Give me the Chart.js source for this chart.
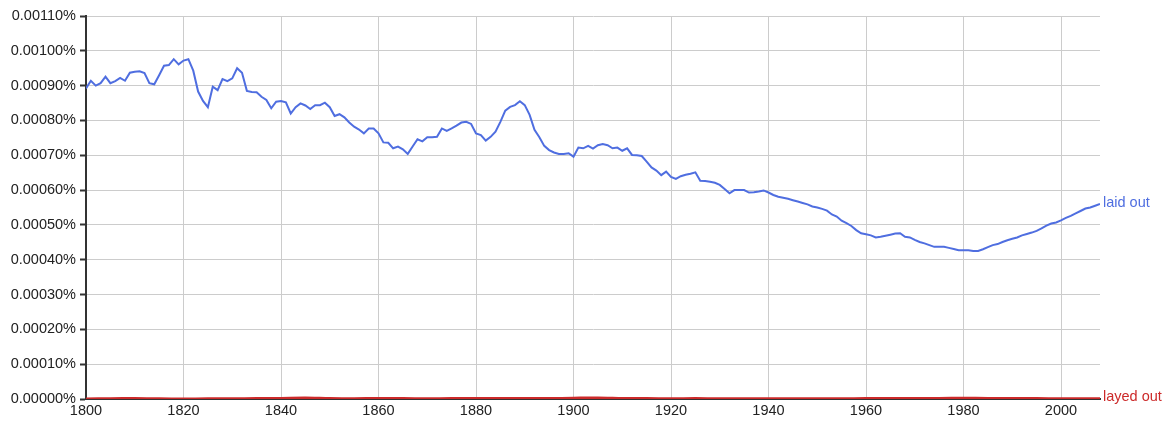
<!DOCTYPE html>
<html>
<head>
<meta charset="utf-8">
<script src="https://cdn.jsdelivr.net/npm/chart.js@4/dist/chart.umd.min.js"></script>
<style>
html,body{margin:0;padding:0;background:#fff;}
#wrap{width:1175px;height:432px;}
</style>
</head>
<body>
<div id="wrap"><canvas id="c" width="1175" height="432"></canvas></div>
<script>
// ---- DATA ----
const startYear = 1800;
const endYear = 2008;
const seriesNames = ["laid out", "layed out"];
// "laid out", yearly 1800..2008, in percent
const laidOut = [
0.000892,0.000914,0.000900,0.000907,0.000926,0.000907,0.000913,0.000922,0.000914,0.000937,
0.000940,0.000941,0.000936,0.000907,0.000904,0.000930,0.000957,0.000959,0.000976,0.000961,
0.000972,0.000976,0.000943,0.000883,0.000856,0.000838,0.000897,0.000887,0.000919,0.000913,
0.000921,0.000950,0.000937,0.000885,0.000882,0.000881,0.000868,0.000859,0.000835,0.000854,
0.000856,0.000852,0.000820,0.000838,0.000849,0.000843,0.000833,0.000844,0.000844,0.000851,
0.000838,0.000813,0.000818,0.000809,0.000794,0.000782,0.000774,0.000763,0.000777,0.000777,
0.000763,0.000737,0.000736,0.000720,0.000725,0.000717,0.000704,0.000725,0.000746,0.000740,
0.000752,0.000752,0.000753,0.000777,0.000770,0.000777,0.000785,0.000794,0.000796,0.000790,
0.000763,0.000758,0.000742,0.000753,0.000768,0.000796,0.000828,0.000839,0.000844,0.000855,
0.000844,0.000816,0.000773,0.000752,0.000727,0.000715,0.000708,0.000704,0.000704,0.000706,
0.000696,0.000722,0.000720,0.000727,0.000719,0.000729,0.000732,0.000729,0.000720,0.000722,
0.000713,0.000720,0.000701,0.000700,0.000698,0.000682,0.000665,0.000656,0.000643,0.000653,
0.000638,0.000632,0.000640,0.000644,0.000647,0.000651,0.000627,0.000626,0.000624,0.000621,
0.000615,0.000603,0.000591,0.000600,0.000600,0.000600,0.000593,0.000594,0.000596,0.000599,
0.000593,0.000586,0.000581,0.000578,0.000575,0.000571,0.000567,0.000563,0.000559,0.000553,
0.000550,0.000546,0.000541,0.000530,0.000524,0.000512,0.000505,0.000497,0.000485,0.000476,
0.000473,0.000470,0.000464,0.000466,0.000469,0.000472,0.000475,0.000476,0.000466,0.000464,
0.000457,0.000451,0.000447,0.000442,0.000437,0.000437,0.000437,0.000434,0.000431,0.000427,
0.000427,0.000427,0.000425,0.000425,0.000430,0.000436,0.000442,0.000445,0.000451,0.000456,
0.000460,0.000464,0.000470,0.000474,0.000478,0.000483,0.000490,0.000498,0.000504,0.000507,
0.000513,0.000520,0.000526,0.000533,0.000540,0.000547,0.000550,0.000555,0.000560
];
// "layed out", sampled years and values in percent
const layedYears = [1800,1805,1810,1815,1820,1825,1830,1835,1840,1845,1850,1855,1860,1865,1870,1875,1880,1885,1890,1895,1900,1905,1910,1915,1920,1925,1930,1935,1940,1945,1950,1955,1960,1965,1970,1975,1980,1985,1990,1995,2000,2005,2008];
const layedOut = [0.0000010,0.0000015,0.0000020,0.0000012,0.0000010,0.0000012,0.0000015,0.0000020,0.0000025,0.0000035,0.0000020,0.0000015,0.0000022,0.0000018,0.0000015,0.0000018,0.0000020,0.0000025,0.0000022,0.0000020,0.0000030,0.0000038,0.0000025,0.0000018,0.0000015,0.0000018,0.0000015,0.0000012,0.0000015,0.0000015,0.0000012,0.0000015,0.0000018,0.0000020,0.0000022,0.0000025,0.0000028,0.0000025,0.0000020,0.0000018,0.0000015,0.0000015,0.0000015];
const xTicks = [1800,1820,1840,1860,1880,1900,1920,1940,1960,1980,2000];
const yTicks = [0,0.0001,0.0002,0.0003,0.0004,0.0005,0.0006,0.0007,0.0008,0.0009,0.0010,0.0011];
const yTickLabels = ["0.00000%","0.00010%","0.00020%","0.00030%","0.00040%","0.00050%","0.00060%","0.00070%","0.00080%","0.00090%","0.00100%","0.00110%"];
const colors = ["#4f6ee0", "#cc2a2a"];

// ---- BUILD ----
const laidPts = laidOut.map((v, i) => ({x: startYear + i, y: v}));
const layedPts = layedOut.map((v, i) => ({x: layedYears[i], y: v}));

const FONT = {family: "'Liberation Sans', Arial, Helvetica, sans-serif", size: 14.5};

const endLabels = {
  id: 'endLabels',
  afterDatasetsDraw(chart) {
    const ctx = chart.ctx;
    ctx.save();
    ctx.font = FONT.size + "px " + FONT.family;
    ctx.textBaseline = 'alphabetic';
    ctx.textAlign = 'left';
    chart.data.datasets.forEach((ds, i) => {
      const meta = chart.getDatasetMeta(i);
      const last = meta.data[meta.data.length - 1];
      ctx.fillStyle = ds.borderColor;
      ctx.fillText(ds.label, last.x + 3, last.y + 2.5);
    });
    ctx.restore();
  }
};

new Chart(document.getElementById('c'), {
  type: 'line',
  data: {
    datasets: [
      {label: seriesNames[0], data: laidPts, borderColor: colors[0], borderWidth: 2, pointRadius: 0, tension: 0, fill: false},
      {label: seriesNames[1], data: layedPts, borderColor: colors[1], borderWidth: 2.5, pointRadius: 0, tension: 0.3, fill: false}
    ]
  },
  options: {
    responsive: false,
    animation: false,
    events: [],
    layout: {padding: {top: 16, right: 75, left: 0, bottom: 0}},
    plugins: {legend: {display: false}, tooltip: {enabled: false}},
    scales: {
      x: {
        type: 'linear',
        min: startYear,
        max: endYear,
        afterBuildTicks: (s) => { s.ticks = xTicks.map(v => ({value: v})); },
        afterFit: (s) => { s.height = 33; },
        grid: {color: '#cccccc', lineWidth: 1, drawTicks: false},
        border: {display: true, color: '#333333', width: 2},
        ticks: {padding: 3, color: '#222222', font: FONT, maxRotation: 0, autoSkip: false,
          callback: (v) => String(v)}
      },
      y: {
        type: 'linear',
        min: 0,
        max: 0.0011,
        afterBuildTicks: (s) => { s.ticks = yTicks.map(v => ({value: v})); },
        afterFit: (s) => { s.width = 86; },
        grid: {color: '#cccccc', lineWidth: 1, drawTicks: true, tickLength: 6, tickColor: '#333333', tickWidth: 2},
        border: {display: true, color: '#333333', width: 2},
        ticks: {padding: 4, color: '#222222', font: FONT, autoSkip: false,
          callback: (v) => { const i = yTicks.findIndex(t => Math.abs(t - v) < 1e-9); return i >= 0 ? yTickLabels[i] : ''; }}
      }
    }
  },
  plugins: [endLabels]
});
</script>
</body>
</html>
